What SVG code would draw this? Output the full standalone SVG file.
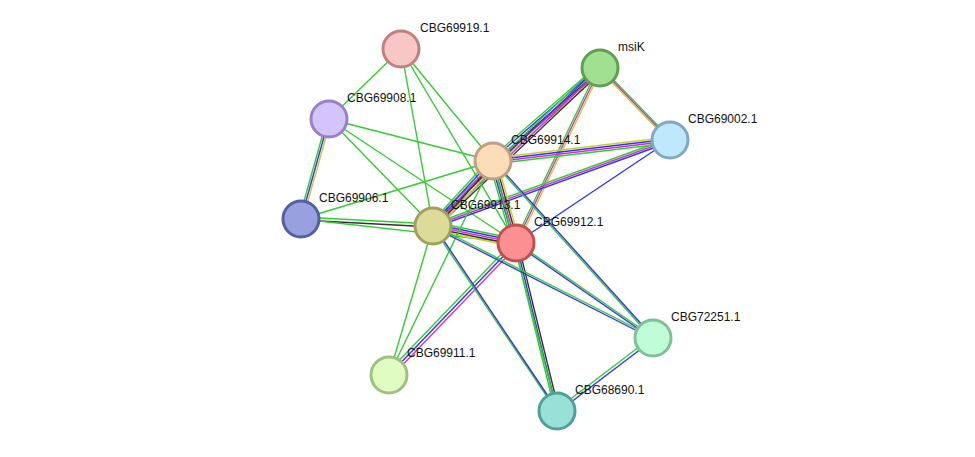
<svg xmlns="http://www.w3.org/2000/svg" xmlns:xlink="http://www.w3.org/1999/xlink" width="975" height="457" viewBox="0 0 975 457">
<style>
.e line{stroke-width:1.4}
.g{stroke:#33cc33}.b{stroke:#3333ee}.m{stroke:#cc33cc}.k{stroke:#333333}.y{stroke:#cccc33}
.n circle{stroke-width:3}
text{font-family:"Liberation Sans",Arial,sans-serif;font-size:12px;fill:#111}
</style>
<rect width="975" height="457" fill="#fff"/>
<g id="connectors" class="e">
<!-- 919 -->
<line class="g" x1="401" y1="49" x2="329" y2="119"/>
<line class="g" x1="401" y1="49" x2="433" y2="226"/>
<line class="g" x1="401" y1="49" x2="493" y2="161"/>
<line class="g" x1="401" y1="49" x2="516" y2="243"/>
<!-- 908 -->
<line class="g" x1="327" y1="119" x2="299" y2="219"/>
<line class="b" x1="329" y1="119" x2="301" y2="219"/>
<line class="y" x1="331" y1="119" x2="303" y2="219"/>
<line class="g" x1="329" y1="119" x2="493" y2="161"/>
<line class="g" x1="329" y1="119" x2="433" y2="226"/>
<line class="g" x1="329" y1="119" x2="516" y2="243"/>
<!-- 906 -->
<line class="g" x1="301" y1="217" x2="433" y2="224"/>
<line class="k" x1="301" y1="220" x2="433" y2="227"/>
<line class="g" x1="301" y1="219" x2="516" y2="243"/>
<line class="g" x1="301" y1="219" x2="493" y2="161"/>
<!-- msiK -->
<line class="g" x1="597" y1="66" x2="490" y2="159"/>
<line class="b" x1="599" y1="67" x2="492" y2="160"/>
<line class="k" x1="601" y1="69" x2="494" y2="162"/>
<line class="m" x1="602" y1="70" x2="495" y2="163"/>
<line class="y" x1="604" y1="71" x2="497" y2="164"/>
<line class="g" x1="597" y1="66" x2="430" y2="224"/>
<line class="b" x1="599" y1="67" x2="432" y2="225"/>
<line class="m" x1="601" y1="69" x2="434" y2="227"/>
<line class="k" x1="603" y1="70" x2="436" y2="228"/>
<line class="g" x1="598" y1="68" x2="514" y2="243"/>
<line class="m" x1="600" y1="68" x2="516" y2="243"/>
<line class="y" x1="602" y1="68" x2="518" y2="243"/>
<line class="g" x1="600" y1="66" x2="670" y2="138"/>
<line class="m" x1="600" y1="68" x2="670" y2="140"/>
<line class="y" x1="600" y1="70" x2="670" y2="142"/>
<!-- 002 -->
<line class="y" x1="670" y1="137" x2="493" y2="158"/>
<line class="b" x1="670" y1="139" x2="493" y2="160"/>
<line class="m" x1="670" y1="141" x2="493" y2="162"/>
<line class="g" x1="670" y1="143" x2="493" y2="164"/>
<line class="g" x1="670" y1="138" x2="433" y2="224"/>
<line class="m" x1="670" y1="140" x2="433" y2="226"/>
<line class="b" x1="670" y1="142" x2="433" y2="228"/>
<line class="b" x1="670" y1="140" x2="516" y2="243"/>
<!-- core -->
<line class="g" x1="490" y1="159" x2="430" y2="224"/>
<line class="b" x1="492" y1="160" x2="432" y2="225"/>
<line class="m" x1="494" y1="161" x2="434" y2="227"/>
<line class="k" x1="495" y1="162" x2="435" y2="228"/>
<line class="y" x1="497" y1="163" x2="437" y2="229"/>
<line class="g" x1="433" y1="222" x2="516" y2="239"/>
<line class="b" x1="433" y1="224" x2="516" y2="241"/>
<line class="m" x1="433" y1="226" x2="516" y2="243"/>
<line class="k" x1="433" y1="228" x2="516" y2="245"/>
<line class="y" x1="433" y1="230" x2="516" y2="247"/>
<line class="g" x1="489" y1="161" x2="512" y2="243"/>
<line class="b" x1="491" y1="161" x2="514" y2="243"/>
<line class="m" x1="493" y1="161" x2="516" y2="243"/>
<line class="k" x1="495" y1="161" x2="518" y2="243"/>
<line class="y" x1="497" y1="161" x2="520" y2="243"/>
<!-- 911 -->
<line class="g" x1="514" y1="241" x2="387" y2="373"/>
<line class="b" x1="516" y1="243" x2="389" y2="375"/>
<line class="m" x1="518" y1="245" x2="391" y2="377"/>
<line class="g" x1="433" y1="226" x2="389" y2="375"/>
<line class="g" x1="493" y1="161" x2="389" y2="375"/>
<!-- 68690 / 72251 -->
<line class="g" x1="514" y1="243" x2="555" y2="411"/>
<line class="b" x1="516" y1="243" x2="557" y2="411"/>
<line class="k" x1="518" y1="243" x2="559" y2="411"/>
<line class="g" x1="432" y1="226" x2="556" y2="410"/>
<line class="b" x1="434" y1="226" x2="558" y2="411"/>
<line class="g" x1="493" y1="161" x2="557" y2="411"/>
<line class="g" x1="516" y1="242" x2="653" y2="337"/>
<line class="b" x1="516" y1="244" x2="653" y2="339"/>
<line class="g" x1="433" y1="225" x2="653" y2="337"/>
<line class="b" x1="433" y1="227" x2="653" y2="339"/>
<line class="g" x1="492" y1="161" x2="652" y2="338"/>
<line class="b" x1="494" y1="161" x2="654" y2="338"/>
<line class="g" x1="652" y1="337" x2="556" y2="410"/>
<line class="b" x1="654" y1="339" x2="558" y2="412"/>
</g>
<g id="n919" class="n"><circle cx="401" cy="49" r="18" fill="#f9c6c6" stroke="#c08080"/><text x="420" y="32">CBG69919.1</text></g>
<g id="nmsiK" class="n"><circle cx="600" cy="68" r="18" fill="#a0e090" stroke="#60a050"/><text x="618" y="51">msiK</text></g>
<g id="n908" class="n"><circle cx="329" cy="119" r="18" fill="#d4c4fc" stroke="#9a80c8"/><text x="347" y="102">CBG69908.1</text></g>
<g id="n002" class="n"><circle cx="670" cy="140" r="18" fill="#c0e8fc" stroke="#80a8c0"/><text x="688" y="123">CBG69002.1</text></g>
<g id="n914" class="n"><circle cx="493" cy="161" r="18" fill="#fddcb8" stroke="#c0a080"/><text x="511" y="144">CBG69914.1</text></g>
<g id="n906" class="n"><circle cx="301" cy="219" r="18" fill="#98a0e0" stroke="#5060a0"/><text x="319" y="202">CBG69906.1</text></g>
<g id="n913" class="n"><circle cx="433" cy="226" r="18" fill="#dcdc98" stroke="#a0a060"/><text x="451" y="209">CBG69913.1</text></g>
<g id="n912" class="n"><circle cx="516" cy="243" r="18" fill="#fc9090" stroke="#c05050"/><text x="534" y="226">CBG69912.1</text></g>
<g id="n72251" class="n"><circle cx="653" cy="338" r="18" fill="#c0fcd8" stroke="#80c098"/><text x="671" y="321">CBG72251.1</text></g>
<g id="n911" class="n"><circle cx="389" cy="375" r="18" fill="#e0fcc0" stroke="#a0c080"/><text x="407" y="357">CBG69911.1</text></g>
<g id="n68690" class="n"><circle cx="557" cy="411" r="18" fill="#98e0d8" stroke="#50a098"/><text x="575" y="394">CBG68690.1</text></g>
</svg>
